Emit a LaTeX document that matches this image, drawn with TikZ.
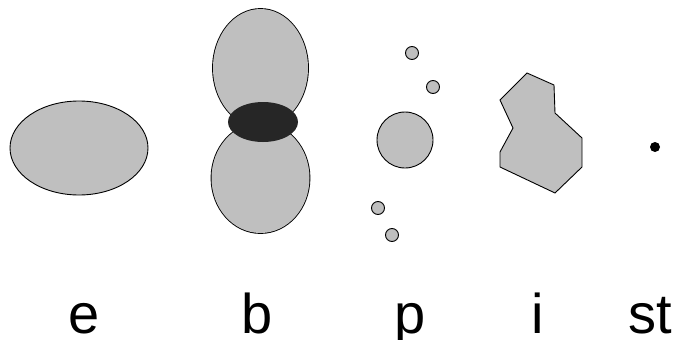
\documentclass[tikz,border=0pt]{standalone}
\usepackage{fontspec}
\setmainfont{Liberation Sans}
\usetikzlibrary{shapes.geometric}
\begin{document}
\begin{tikzpicture}[x=1pt,y=-1pt,
  blob/.style={fill=gray!50, draw=black, line width=0.9pt},
  lbl/.style={anchor=base, inner sep=0pt, font=\fontsize{56}{60}\selectfont}]
\useasboundingbox (0,0) rectangle (678,340);
% e
\node[blob, ellipse, minimum width=138, minimum height=94, inner sep=0pt] (e) at (79,148) {};
% b
\path[draw=black, line width=1.8pt] (260.5,68) ellipse [x radius=47.5, y radius=59];
\path[draw=black, line width=1.8pt] (260.5,178) ellipse [x radius=49, y radius=55];
\path[fill=gray!50] (260.5,68) ellipse [x radius=47.5, y radius=59];
\path[fill=gray!50] (260.5,178) ellipse [x radius=49, y radius=55];
\node[ellipse, fill=black!85, minimum width=70, minimum height=40, inner sep=0pt] (bcore) at (263,122) {};
% p
\node[blob, circle, minimum size=56, inner sep=0pt] (pc) at (405,140) {};
\node[blob, circle, minimum size=13, inner sep=0pt] (p1) at (412,53) {};
\node[blob, circle, minimum size=13, inner sep=0pt] (p2) at (433,87) {};
\node[blob, circle, minimum size=13, inner sep=0pt] (p3) at (378,208) {};
\node[blob, circle, minimum size=13, inner sep=0pt] (p4) at (392,235) {};
% i
\draw[blob, line join=miter] (527,73) -- (554,85) -- (555,113) -- (582,138) -- (582,167) -- (555,193) -- (500,167) -- (500,152) -- (513,128) -- (500,100) -- cycle;
% st
\node[circle, fill=black, minimum size=10, inner sep=0pt] (st) at (655,147) {};
% labels
\node[lbl] (le) at (84,333) {e};
\node[lbl] (lb) at (257,333) {b};
\node[lbl] (lp) at (410,333) {p};
\node[lbl] (li) at (538,333) {i};
\node[lbl] (lst) at (650,333) {st};
\end{tikzpicture}
\end{document}
